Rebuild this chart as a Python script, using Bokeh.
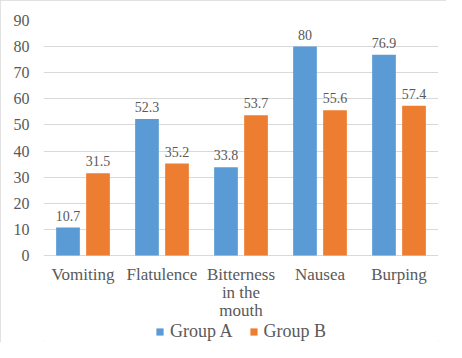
from bokeh.plotting import figure
from bokeh.models import ColumnDataSource, FactorRange, Legend, LegendItem, Range1d
from bokeh.transform import dodge
from bokeh.core.properties import value
from bokeh.embed import file_html
from bokeh.resources import INLINE

categories = ["Vomiting", "Flatulence", "Bitterness\nin the\nmouth", "Nausea", "Burping"]
group_a = [10.7, 52.3, 33.8, 80, 76.9]
group_b = [31.5, 35.2, 53.7, 55.6, 57.4]
series_names = ["Group A", "Group B"]
y_ticks = [0, 10, 20, 30, 40, 50, 60, 70, 80, 90]

FONT = "Liberation Serif"
TXT = "#595959"
BLUE = "#5B9BD5"
ORANGE = "#ED7D31"

src = ColumnDataSource(dict(
    cat=categories,
    a=group_a,
    b=group_b,
    a_lbl=[f"{v:g}" for v in group_a],
    b_lbl=[f"{v:g}" for v in group_b],
))

# frame extends below zero so the category labels and legend live inside it
p = figure(
    x_range=FactorRange(*categories),
    y_range=Range1d(-33.3, 90),
    width=446, height=342,
    output_backend="svg", toolbar_location=None,
    min_border_left=43, min_border_right=8, min_border_top=20, min_border_bottom=0,
)
p.styles = {"outline": "2px solid #d9d9d9", "outline-offset": "-2px"}
p.outline_line_color = None
p.background_fill_color = "white"
p.border_fill_color = "white"
p.xaxis.visible = False

ra = p.vbar(x=dodge("cat", -0.19, range=p.x_range), top="a", bottom=0, width=0.30,
            source=src, fill_color=BLUE, line_color=None)
rb = p.vbar(x=dodge("cat", 0.19, range=p.x_range), top="b", bottom=0, width=0.30,
            source=src, fill_color=ORANGE, line_color=None)

p.text(x=dodge("cat", -0.19, range=p.x_range), y="a", text="a_lbl", source=src,
       text_align="center", text_baseline="alphabetic", y_offset=-12,
       text_font=value(FONT), text_font_size="14px", text_color=TXT)
p.text(x=dodge("cat", 0.19, range=p.x_range), y="b", text="b_lbl", source=src,
       text_align="center", text_baseline="alphabetic", y_offset=-12,
       text_font=value(FONT), text_font_size="14px", text_color=TXT)

# category labels under the baseline
p.text(x="cat", y=0, text="cat", source=src,
       text_align="center", text_baseline="top", y_offset=9, text_line_height=0.97,
       text_font=value(FONT), text_font_size="17px", text_color=TXT)

p.yaxis.ticker = y_ticks
p.yaxis.axis_line_color = None
p.yaxis.major_tick_line_color = None
p.yaxis.minor_tick_line_color = None
p.yaxis.major_tick_out = 0
p.yaxis.major_tick_in = 0
p.yaxis.major_label_standoff = 14
p.yaxis.major_label_text_font = FONT
p.yaxis.major_label_text_font_size = "16px"
p.yaxis.major_label_text_color = TXT

p.xgrid.grid_line_color = None
p.ygrid.ticker = y_ticks
p.ygrid.grid_line_color = "#d9d9d9"
p.ygrid.grid_line_width = 1

legend = Legend(
    items=[LegendItem(label=series_names[0], renderers=[ra]),
           LegendItem(label=series_names[1], renderers=[rb])],
    orientation="horizontal", location=(112, 0),
    label_text_font=FONT, label_text_font_size="18px", label_text_color=TXT,
    glyph_width=9, glyph_height=9, label_standoff=6, spacing=16,
    padding=0, margin=0, border_line_color=None, background_fill_alpha=0,
)
p.add_layout(legend, "center")

open("out.html", "w").write(file_html(p, INLINE))
